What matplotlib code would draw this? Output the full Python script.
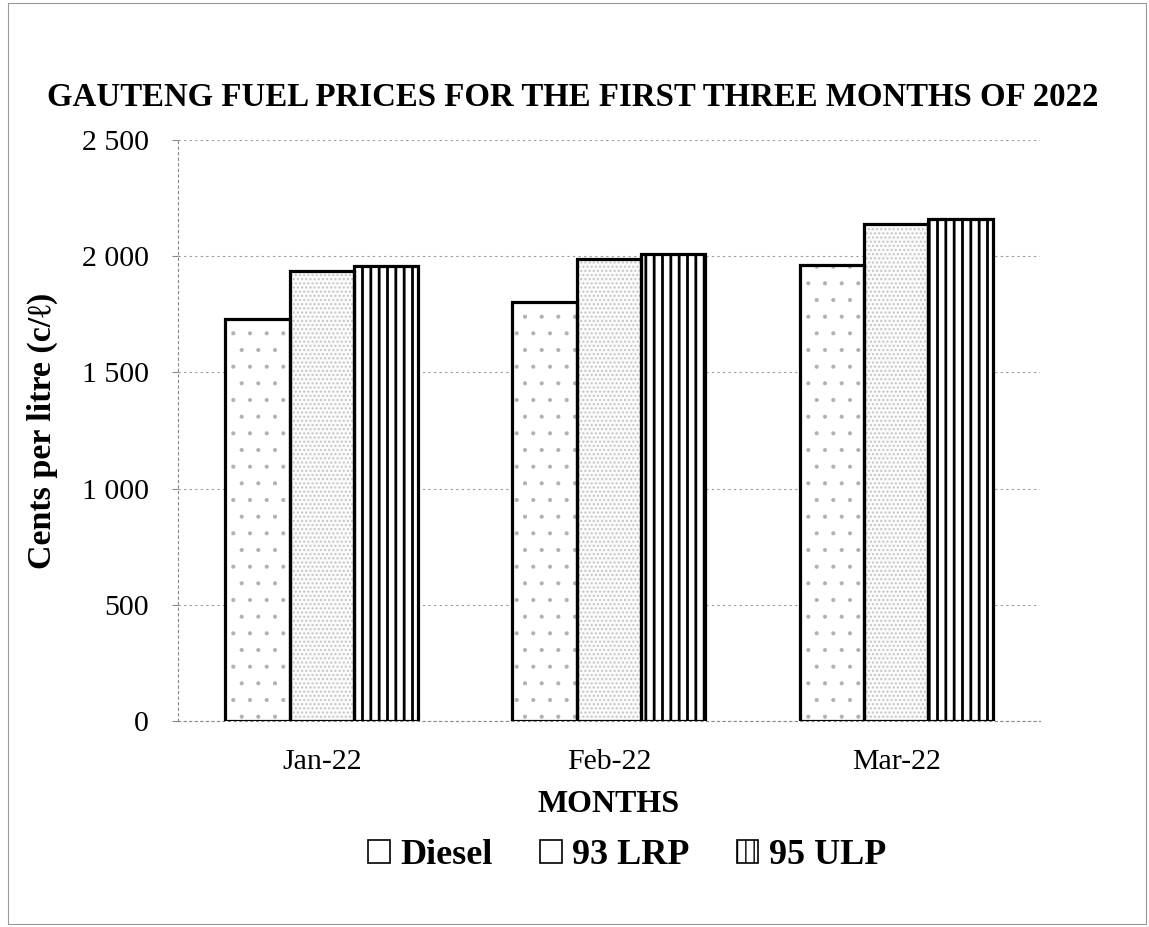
import matplotlib
matplotlib.use("Agg")
import matplotlib.pyplot as plt
import numpy as np
from matplotlib.patches import Patch, Rectangle

months = ["Jan-22", "Feb-22", "Mar-22"]
series_names = ["Diesel", "93 LRP", "95 ULP"]
diesel = [1728, 1805, 1963]
lrp93 = [1935, 1987, 2140]
ulp95 = [1958, 2010, 2160]
yticks = [0, 500, 1000, 1500, 2000, 2500]
ytick_labels = ["0", "500", "1 000", "1 500", "2 000", "2 500"]

plt.rcParams['font.family'] = ['Liberation Serif', 'DejaVu Serif']

fig = plt.figure(figsize=(11.49, 9.27), dpi=100)
ax = fig.add_axes([0.155, 0.222, 0.750, 0.627])

x = np.arange(len(months))
w = 0.224
offsets = [-w, 0, w]
data = [diesel, lrp93, ulp95]
hatches = ['.', '....', '||']
hatch_colors = ['#b0b0b0', '#c4c4c4', 'black']
hatch_lw = [0.5, 1.0, 2.0]
face = ['white', '#fbfbfb', 'white']

for vals, off, h, hc, fc, hl in zip(data, offsets, hatches, hatch_colors, face, hatch_lw):
    with plt.rc_context({'hatch.linewidth': hl}):
        ax.bar(x + off, vals, w, facecolor=fc, edgecolor=hc, hatch=h, linewidth=0, zorder=2)
    ax.bar(x + off, vals, w, facecolor='none', edgecolor='black', linewidth=2.3, zorder=3)

ax.set_xlim(-0.5, 2.5)
ax.set_ylim(0, 2500)
ax.set_yticks(yticks)
ax.set_yticklabels(ytick_labels, fontsize=21.5)
ax.set_xticks(x)
ax.set_xticklabels(months, fontsize=21.5)
ax.tick_params(axis='x', length=0, pad=20)
ax.tick_params(axis='y', length=4, color='#888888', pad=17)
ax.yaxis.grid(True, linestyle=(0, (2, 3)), color='#999999', linewidth=0.8, zorder=0)
ax.set_axisbelow(True)
for s in ['top', 'right']:
    ax.spines[s].set_visible(False)
for s in ['left', 'bottom']:
    ax.spines[s].set_linestyle((0, (2, 3)))
    ax.spines[s].set_color('#888888')
    ax.spines[s].set_linewidth(0.8)

ax.set_xlabel("MONTHS", fontsize=23, fontweight='bold', labelpad=11)
ax.set_ylabel("Cents per litre (c/ℓ)", fontsize=24.5, fontweight='bold', labelpad=17)

fig.text(0.498, 0.895, "GAUTENG FUEL PRICES FOR THE FIRST THREE MONTHS OF 2022",
         ha='center', va='center', fontsize=23.7, fontweight='bold')

handles = []
for h, hl in zip(['', '', '||'], [0.5, 0.5, 1.0]):
    with plt.rc_context({'hatch.linewidth': hl}):
        handles.append(Patch(facecolor='white', edgecolor='black', hatch=h, linewidth=1.2))
fig.legend(handles, series_names, loc='center', bbox_to_anchor=(0.546, 0.077),
           ncol=3, frameon=False, prop={'weight': 'bold', 'size': 26},
           handlelength=0.6, handleheight=0.6, handletextpad=0.3, columnspacing=1.3)

fig.patches.append(Rectangle((0.007, 0.003), 0.990, 0.994, transform=fig.transFigure,
                             fill=False, edgecolor='#999999', linewidth=0.8))

fig.savefig("out.png", dpi=100, facecolor='white')
